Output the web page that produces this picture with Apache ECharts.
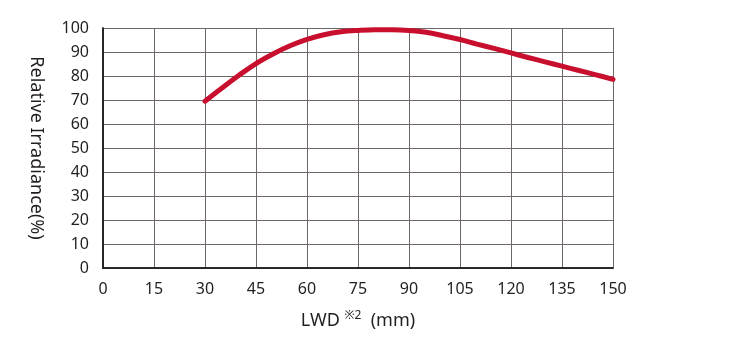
<!DOCTYPE html>
<html>
<head>
<meta charset="utf-8">
<script src="https://cdn.jsdelivr.net/npm/echarts@6/dist/echarts.min.js"></script>
<style>
  html, body { margin: 0; padding: 0; background: #fff; }
  #chart { width: 750px; height: 340px; }
</style>
</head>
<body>
<div id="chart"></div>
<script>
// LWD (mm) vs relative irradiance (%)
const lwd = [30, 35, 40, 45, 50, 55, 60, 65, 70, 75, 80, 85, 90, 95, 100, 105, 110, 115, 120, 125, 130, 135, 140, 145, 150]
const irradiance = [69.5, 75, 80.3, 85.2, 89.2, 92.6, 95.3, 97.2, 98.4, 99.0, 99.3, 99.3, 99.0, 98.2, 96.8, 95.2, 93.3, 91.5, 89.6, 87.7, 85.9, 84.1, 82.3, 80.5, 78.6]

const font = '"Noto Sans", "Open Sans", sans-serif'
const ink = '#231f20'

const frameAxis = {
  type: 'value',
  axisLine: { show: true, lineStyle: { color: ink, width: 1.5 } },
  axisTick: { show: false },
  axisLabel: { show: false },
  splitLine: { show: false }
}

const chart = echarts.init(document.getElementById('chart'))

chart.setOption({
  animation: false,
  grid: { left: 103, right: 137, top: 28, bottom: 72 },
  xAxis: [
    {
      type: 'value',
      min: 0,
      max: 150,
      interval: 15,
      name: '{a|LWD }{s|※2}{a|  (mm)}',
      nameLocation: 'middle',
      nameGap: 42,
      nameTextStyle: {
        rich: {
          a: { fontSize: 18, color: ink, fontFamily: font },
          s: { fontSize: 12, color: ink, fontFamily: font, verticalAlign: 'top', padding: [0, 0, 9, 0] }
        }
      },
      axisLine: { lineStyle: { color: ink, width: 1.5 } },
      axisTick: { show: false },
      axisLabel: { color: ink, fontSize: 16, fontFamily: font, margin: 13 },
      splitLine: { show: true, lineStyle: { color: '#6d6766', width: 1 } }
    },
    Object.assign({ min: 0, max: 150, position: 'top' }, frameAxis)
  ],
  yAxis: [
    {
      type: 'value',
      min: 0,
      max: 100,
      interval: 10,
      name: 'Relative Irradiance(%)',
      nameLocation: 'middle',
      nameRotate: -90,
      nameGap: 58,
      nameTextStyle: { color: ink, fontSize: 18, fontFamily: font },
      axisLine: { show: true, lineStyle: { color: ink, width: 1.5 } },
      axisTick: { show: false },
      axisLabel: { color: ink, fontSize: 16, fontFamily: font, margin: 14 },
      splitLine: { show: true, lineStyle: { color: '#6d6766', width: 1 } }
    },
    Object.assign({ min: 0, max: 100, position: 'right' }, frameAxis)
  ],
  series: [
    {
      type: 'line',
      data: lwd.map((x, i) => [x, irradiance[i]]),
      smooth: 0.4,
      showSymbol: false,
      lineStyle: { color: '#c8102e', width: 5, cap: 'round' }
    }
  ]
})
</script>
</body>
</html>
